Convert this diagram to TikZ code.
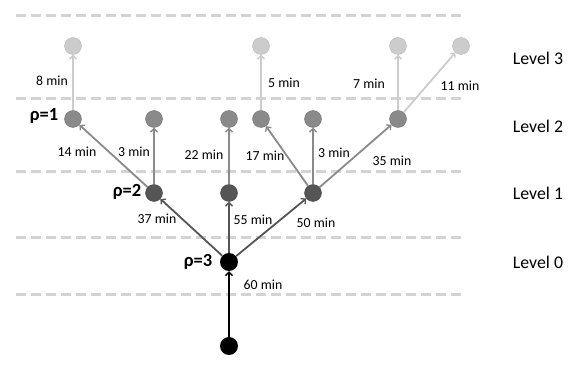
\documentclass[tikz,border=0pt]{standalone}
\usepackage{fontspec}
\setmainfont{Carlito}
\usetikzlibrary{arrows.meta}
\definecolor{cA}{HTML}{CCCCCC}
\definecolor{cB}{HTML}{8A8A8A}
\definecolor{cC}{HTML}{555555}
\definecolor{cD}{HTML}{000000}
\definecolor{dashc}{HTML}{D3D3D3}
\begin{document}
\begin{tikzpicture}[x=1pt,y=-1pt,
  lvlline/.style={dashc,line width=3pt,dash pattern=on 10pt off 5pt},
  dot/.style={circle,minimum size=17pt,inner sep=0pt},
  dotA/.style={dot,fill=cA,draw=cA!90!black,line width=0.4pt},
  dotB/.style={dot,fill=cB,draw=cB!85!black,line width=0.4pt},
  dotC/.style={dot,fill=cC,draw=cC!85!black,line width=0.4pt},
  dotD/.style={dot,fill=black,minimum size=18pt},
  edge/.style={line width=1.8pt,-{Straight Barb[length=3.5pt,width=7pt,line width=1.3pt]}},
  lab/.style={font=\fontsize{13.8}{15}\selectfont,inner sep=1pt},
  rho/.style={font=\fontsize{18.5}{20}\selectfont\bfseries,inner sep=1pt},
  lvl/.style={font=\fontsize{17.8}{20}\selectfont,inner sep=1pt}]
\useasboundingbox (0,0) rectangle (582,366);
% level lines
\foreach \y/\n in {16/la,99/lb,172/lc,238/ld,295/le}{
  \coordinate (\n s) at (16,\y); \coordinate (\n e) at (462,\y);
  \draw[lvlline] (\n s) -- (\n e);
}
% nodes
\node[dotA] (t1) at (73,46) {};
\node[dotA] (t2) at (261,46) {};
\node[dotA] (t3) at (398,46) {};
\node[dotA] (t4) at (461,46) {};
\node[dotB] (s1) at (73,119) {};
\node[dotB] (s2) at (154,119) {};
\node[dotB] (s3) at (229,119) {};
\node[dotB] (s4) at (261,119) {};
\node[dotB] (s5) at (313,119) {};
\node[dotB] (s6) at (398,119) {};
\node[dotC] (f1) at (154,193) {};
\node[dotC] (f2) at (229,193) {};
\node[dotC] (f3) at (313,193) {};
\node[dotD] (z) at (229,262) {};
\node[dotD] (r) at (229,346) {};
% edges
\draw[edge,black] (r) -- (z);
\draw[edge,cC] (z) -- (f1);
\draw[edge,cC] (z) -- (f2);
\draw[edge,cC] (z) -- (f3);
\draw[edge,cB] (f1) -- (s1);
\draw[edge,cB] (f1) -- (s2);
\draw[edge,cB] (f2) -- (s3);
\draw[edge,cB] (f3) -- (s4);
\draw[edge,cB] (f3) -- (s5);
\draw[edge,cB] (f3) -- (s6);
\draw[edge,cA] (s1) -- (t1);
\draw[edge,cA] (s4) -- (t2);
\draw[edge,cA] (s6) -- (t3);
\draw[edge,cA] (s6) -- (t4);
% edge labels
\node[lab] (l60) at (263,285) {60 min};
\node[lab] (l37) at (157,219) {37 min};
\node[lab] (l55) at (253,220) {55 min};
\node[lab] (l50) at (316,223) {50 min};
\node[lab] (l14) at (77,152) {14 min};
\node[lab] (l3a) at (134,152) {3 min};
\node[lab] (l22) at (204,155) {22 min};
\node[lab] (l17) at (265,156) {17 min};
\node[lab] (l3b) at (334,153) {3 min};
\node[lab] (l35) at (392,161) {35 min};
\node[lab] (l8) at (52,81) {8 min};
\node[lab] (l5) at (284,83) {5 min};
\node[lab] (l7) at (369,84) {7 min};
\node[lab] (l11) at (460,86) {11 min};
% rho labels
\node[rho] (p1) at (44,116) {ρ=1};
\node[rho] (p2) at (127,192) {ρ=2};
\node[rho] (p3) at (198,262) {ρ=3};
% level labels
\node[lvl] (v3) at (538,58) {Level 3};
\node[lvl] (v2) at (538,126) {Level 2};
\node[lvl] (v1) at (538,193) {Level 1};
\node[lvl] (v0) at (538,262) {Level 0};
\end{tikzpicture}
\end{document}
